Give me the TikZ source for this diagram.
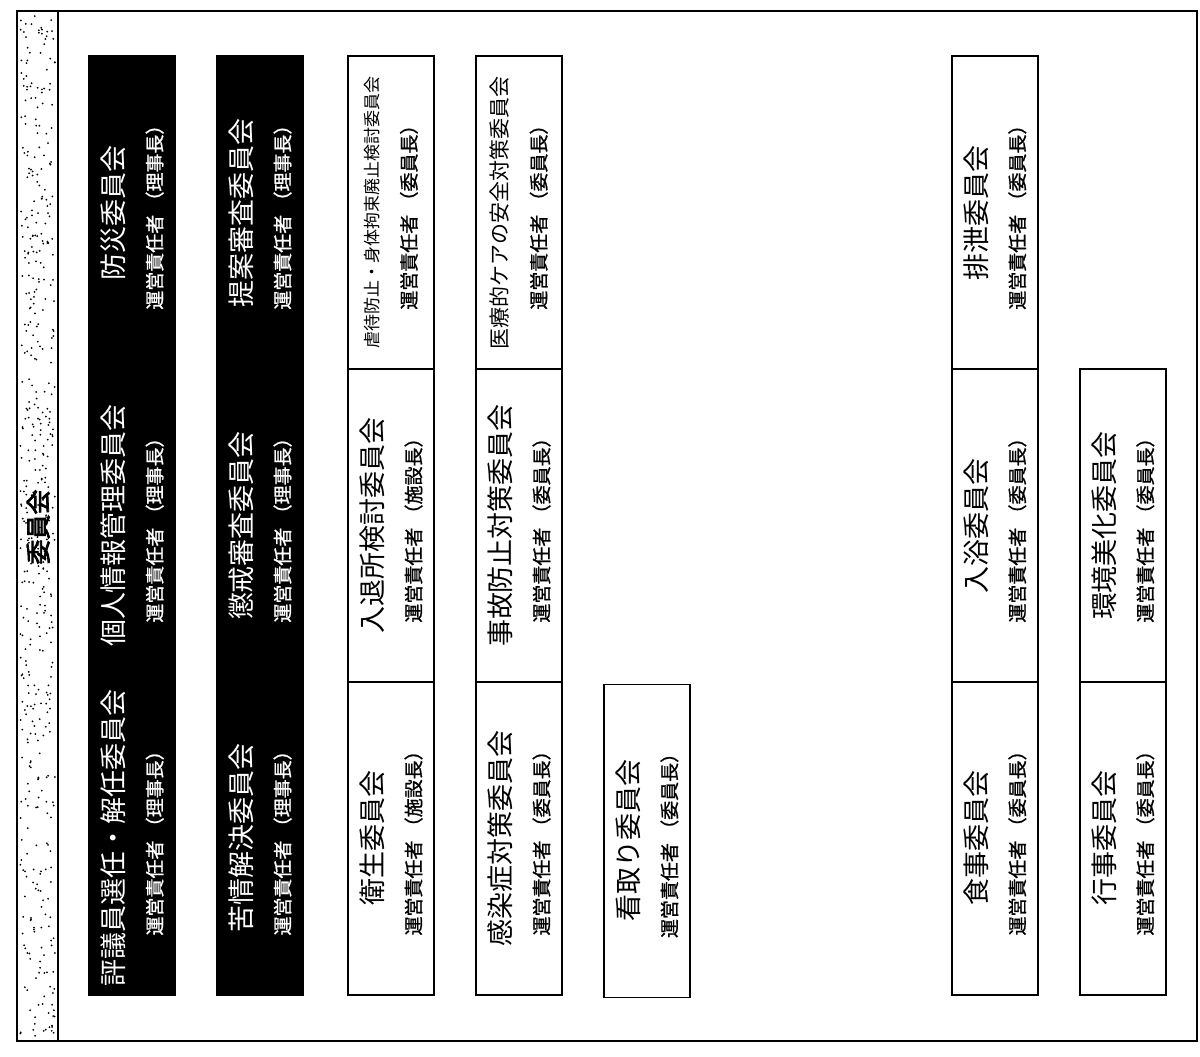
\documentclass[tikz,border=0pt]{standalone}
\usepackage{fontspec}
\setmainfont{Noto Sans CJK JP}
\usepackage{tikz}
\definecolor{ink}{RGB}{0, 0, 0}
\newcommand*{\h}{313}
\newcommand*{\w}{86}
\newcommand*{\cmte}[3][27]{\fontsize{#1}{30}\selectfont #2\\[19pt]\fontsize{19}{22}\selectfont\addfontfeature{FakeBold=1}運営責任者 （#3）}

\begin{document}
\begin{tikzpicture}[
   x=1pt, y=-1pt,
   darkrec/.style={rectangle, draw=ink, fill=ink, line width=1.5, text=white,
                   rotate=90, inner sep=0, minimum width=\h, minimum height=\w, align=center},
   lightrec/.style={rectangle, draw=ink, fill=white, line width=1.5, text=ink,
                    rotate=90, inner sep=0, minimum width=\h, minimum height=\w, align=center}
  ]

  \draw[white] (0, 0) rectangle (1200, 1056);

  % Frame and side strip
  \draw[ink, line width=1.5] (17, 11) rectangle (1197, 1041);
  \draw[ink, line width=1.5] (17, 11) rectangle (58, 1041);
  \pgfmathsetseed{11}
  \foreach \i in {1,...,480} {
    \fill[ink] ({20 + 35 * rnd}, {14 + 1024 * rnd}) circle (1);
  }
  \node (Z) at (38, 527) [rotate=90, text=ink] { \fontsize{25}{25}\selectfont\addfontfeature{FakeBold=3}委員会 };

  % Black columns
  \node (A) at (132, 212.5) [darkrec] { \cmte{防災委員会}{理事長} };
  \node (B) at (132, 525.5) [darkrec] { \cmte{個人情報管理委員会}{理事長} };
  \node (C) at (132, 838.5) [darkrec] { \cmte{評議員選任・解任委員会}{理事長} };

  \node (D) at (260, 212.5) [darkrec] { \cmte{提案審査委員会}{理事長} };
  \node (E) at (260, 525.5) [darkrec] { \cmte{懲戒審査委員会}{理事長} };
  \node (F) at (260, 838.5) [darkrec] { \cmte{苦情解決委員会}{理事長} };

  % White columns
  \node (G) at (391, 212.5) [lightrec] { \cmte[17]{虐待防止・身体拘束廃止検討委員会}{委員長} };
  \node (H) at (391, 525.5) [lightrec] { \cmte{入退所検討委員会}{施設長} };
  \node (I) at (391, 838.5) [lightrec] { \cmte{衛生委員会}{施設長} };

  \node (J) at (519, 212.5) [lightrec] { \cmte[21]{医療的ケアの安全対策委員会}{委員長} };
  \node (K) at (519, 525.5) [lightrec] { \cmte{事故防止対策委員会}{委員長} };
  \node (L) at (519, 838.5) [lightrec] { \cmte{感染症対策委員会}{委員長} };

  \node (M) at (647, 841) [lightrec] { \cmte{看取り委員会}{委員長} };

  \node (N) at (995, 212.5) [lightrec] { \cmte{排泄委員会}{委員長} };
  \node (O) at (995, 525.5) [lightrec] { \cmte{入浴委員会}{委員長} };
  \node (P) at (995, 838.5) [lightrec] { \cmte{食事委員会}{委員長} };

  \node (Q) at (1123, 525.5) [lightrec] { \cmte{環境美化委員会}{委員長} };
  \node (R) at (1123, 838.5) [lightrec] { \cmte{行事委員会}{委員長} };

\end{tikzpicture}
\end{document}
